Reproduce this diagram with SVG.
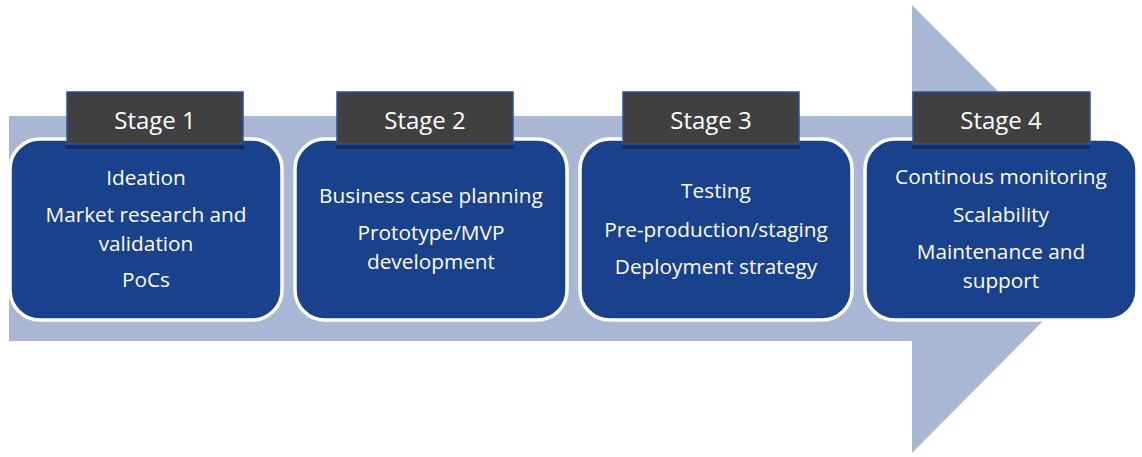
<svg xmlns="http://www.w3.org/2000/svg" width="1142" height="457" viewBox="0 0 1142 457">
<style>
.box{fill:#1a418b;stroke:#ffffff;stroke-width:3.5}
.lbl{fill:#404040;stroke:#2b52a3;stroke-width:1.5}
.shd{fill:#13285a;opacity:0.85}
.t{font-family:"Open Sans","Liberation Sans",sans-serif;fill:#ffffff;text-anchor:middle;font-size:20.8px}
.s{font-size:24px}
</style>
<g id="arrow"><path d="M9,116 H912 V5 L1135,228.5 L912,453 V341 H9 Z" fill="#a9b6d4"/></g>
<g id="connectors"></g>
<g id="stage1">
<rect class="box" x="10" y="139" width="272" height="181" rx="30"/>
<rect class="shd" x="66" y="143" width="178" height="6"/>
<rect class="lbl" x="67" y="92" width="176" height="52"/>
<text class="t s" x="155" y="129">Stage 1</text>
<text class="t" x="146" y="185">Ideation</text>
<text class="t" x="146" y="222">Market research and</text>
<text class="t" x="146" y="250.5">validation</text>
<text class="t" x="146" y="287">PoCs</text>
</g>
<g id="stage2">
<rect class="box" x="295" y="139" width="272" height="181" rx="30"/>
<rect class="shd" x="336" y="143" width="178" height="6"/>
<rect class="lbl" x="337" y="92" width="176" height="52"/>
<text class="t s" x="425" y="129">Stage 2</text>
<text class="t" x="431" y="203">Business case planning</text>
<text class="t" x="431" y="240">Prototype/MVP</text>
<text class="t" x="431" y="268.5">development</text>
</g>
<g id="stage3">
<rect class="box" x="580" y="139" width="272" height="181" rx="30"/>
<rect class="shd" x="622" y="143" width="178" height="6"/>
<rect class="lbl" x="623" y="92" width="176" height="52"/>
<text class="t s" x="711" y="129">Stage 3</text>
<text class="t" x="716" y="198">Testing</text>
<text class="t" x="716" y="237">Pre-production/staging</text>
<text class="t" x="716" y="274">Deployment strategy</text>
</g>
<g id="stage4">
<rect class="box" x="865" y="139" width="272" height="181" rx="30"/>
<rect class="shd" x="912" y="143" width="178" height="6"/>
<rect class="lbl" x="913" y="92" width="177" height="52"/>
<text class="t s" x="1001" y="129">Stage 4</text>
<text class="t" x="1001" y="184">Continous monitoring</text>
<text class="t" x="1001" y="222">Scalability</text>
<text class="t" x="1001" y="259">Maintenance and</text>
<text class="t" x="1001" y="287.5">support</text>
</g>
</svg>
